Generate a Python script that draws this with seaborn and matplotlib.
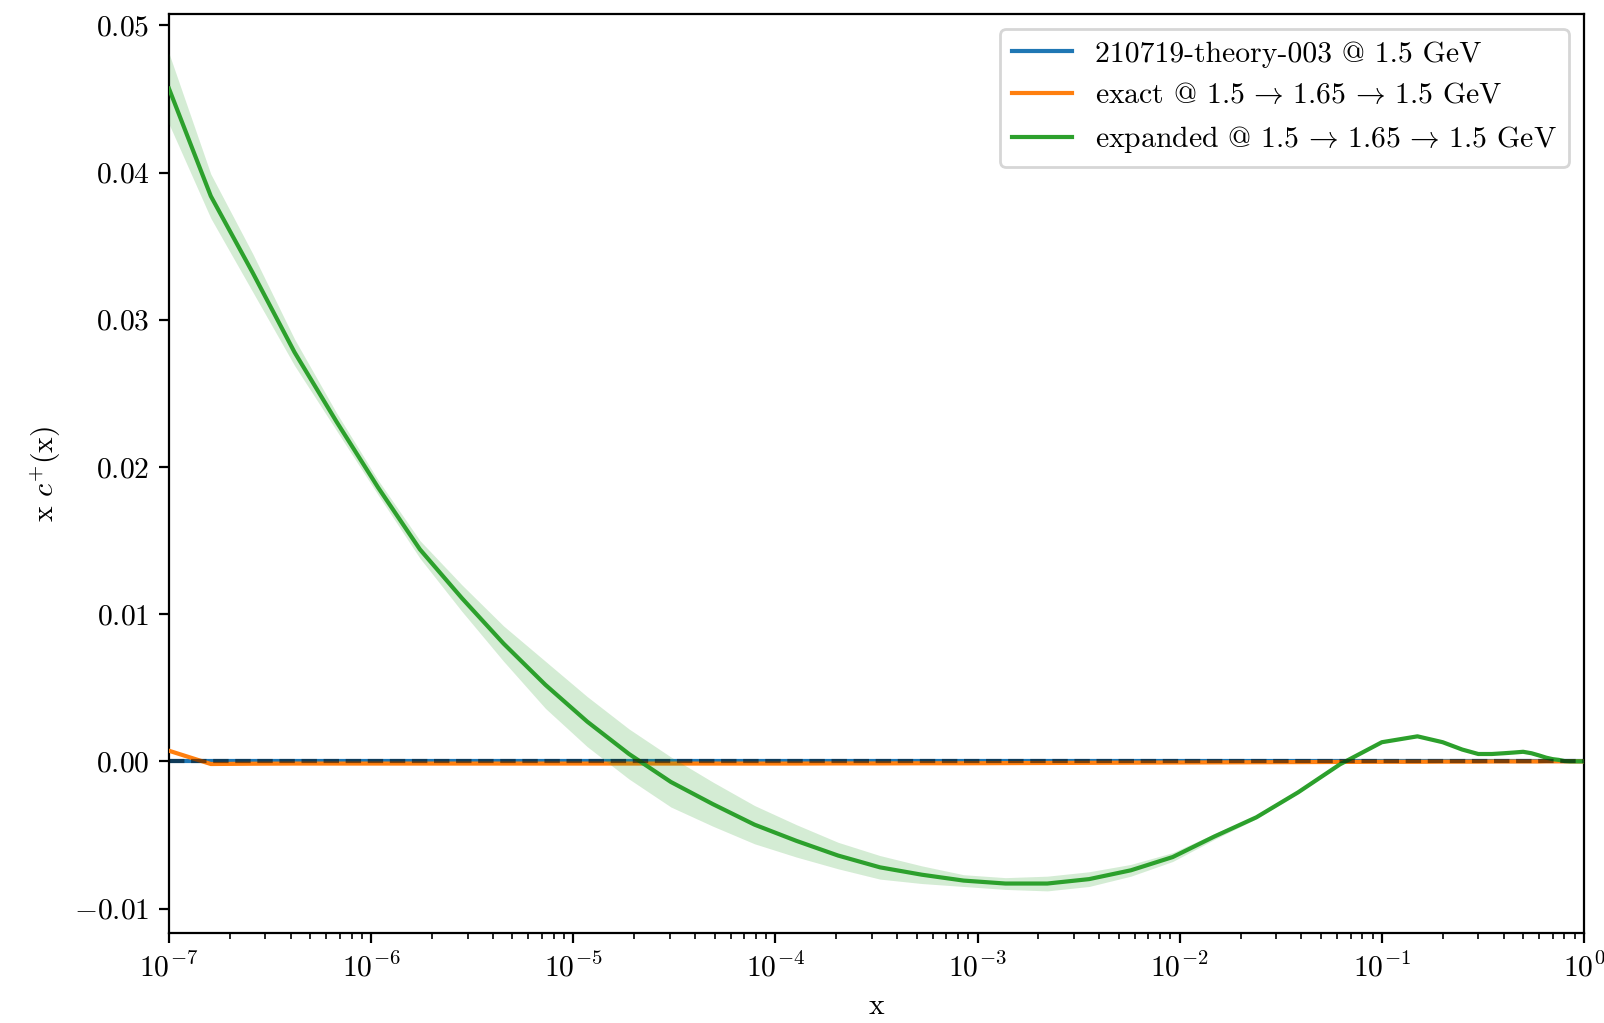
import numpy as np
import pandas as pd
import matplotlib
matplotlib.use("Agg")
import matplotlib.pyplot as plt
import seaborn as sns
from matplotlib.lines import Line2D

# ---------------- data ----------------
x_grid = [1.000e-7, 1.610e-7, 2.593e-7, 4.175e-7, 6.723e-7,
          1.083e-6, 1.743e-6, 2.807e-6, 4.520e-6, 7.279e-6,
          1.172e-5, 1.887e-5, 3.039e-5, 4.894e-5, 7.880e-5,
          1.269e-4, 2.043e-4, 3.290e-4, 5.298e-4, 8.532e-4,
          1.374e-3, 2.212e-3, 3.562e-3, 5.736e-3, 9.237e-3,
          1.487e-2, 2.395e-2, 3.857e-2, 6.210e-2, 1.000e-1,
          0.15, 0.20, 0.25, 0.30, 0.35, 0.40, 0.45, 0.50, 0.55,
          0.60, 0.65, 0.70, 0.75, 0.80, 0.85, 0.90, 0.95, 1.00]

theory_vals = [0.0, 0.0, 0.0, 0.0, 0.0, 0.0, 0.0, 0.0, 0.0, 0.0,
               0.0, 0.0, 0.0, 0.0, 0.0, 0.0, 0.0, 0.0, 0.0, 0.0,
               0.0, 0.0, 0.0, 0.0, 0.0, 0.0, 0.0, 0.0, 0.0, 0.0,
               0.0, 0.0, 0.0, 0.0, 0.0, 0.0, 0.0, 0.0, 0.0,
               0.0, 0.0, 0.0, 0.0, 0.0, 0.0, 0.0, 0.0, 0.0]
theory_err = [0.00005, 0.00003, 0.00002, 0.00002, 0.00002, 0.00002, 0.00002, 0.00002, 0.00002, 0.00002,
              0.00002, 0.00002, 0.00002, 0.00002, 0.00002, 0.00002, 0.00002, 0.00002, 0.00002, 0.00002,
              0.00002, 0.00002, 0.00002, 0.00002, 0.00002, 0.00002, 0.00002, 0.00002, 0.00002, 0.00002,
              0.00002, 0.00002, 0.00002, 0.00002, 0.00002, 0.00002, 0.00002, 0.00002, 0.00002,
              0.00002, 0.00002, 0.00002, 0.00002, 0.00002, 0.00002, 0.00002, 0.00002, 0.00002]

exact_vals = [0.00072, -0.00018, -0.00016, -0.00015, -0.00015, -0.00015, -0.00015, -0.00015, -0.00015, -0.00015,
              -0.00015, -0.00015, -0.00015, -0.00015, -0.00015, -0.00015, -0.00014, -0.00014, -0.00013, -0.00013,
              -0.00012, -0.00011, -0.00010, -0.00009, -0.00008, -0.00007, -0.00006, -0.00005, -0.00004, -0.00003,
              -0.00003, -0.00002, -0.00002, -0.00002, -0.00001, -0.00001, -0.00001, -0.00001, -0.00001,
              -0.00001, 0.0, 0.0, 0.0, 0.0, 0.0, 0.0, 0.0, 0.0]
exact_err = [0.00006, 0.00004, 0.00003, 0.00003, 0.00003, 0.00003, 0.00003, 0.00003, 0.00003, 0.00003,
             0.00003, 0.00003, 0.00003, 0.00003, 0.00003, 0.00003, 0.00003, 0.00003, 0.00003, 0.00003,
             0.00003, 0.00003, 0.00003, 0.00003, 0.00003, 0.00003, 0.00003, 0.00003, 0.00003, 0.00003,
             0.00002, 0.00002, 0.00002, 0.00002, 0.00002, 0.00002, 0.00002, 0.00002, 0.00002,
             0.00002, 0.00002, 0.00002, 0.00002, 0.00002, 0.00002, 0.00002, 0.00002, 0.00002]

expanded_vals = [0.0457, 0.0384, 0.0332, 0.0278, 0.0231, 0.0186, 0.0144, 0.0111, 0.0080, 0.0052,
                 0.0027, 0.0005, -0.0014, -0.0029, -0.0043, -0.0054, -0.0064, -0.0072, -0.0077, -0.0081,
                 -0.0083, -0.0083, -0.0080, -0.0074, -0.0065, -0.0051, -0.0038, -0.0021, -0.0002, 0.0013,
                 0.0017, 0.0013, 0.0008, 0.0005, 0.0005, 0.00055, 0.0006, 0.00065, 0.00055,
                 0.0004, 0.00025, 0.00015, 0.0001, 0.00002, 0.0, 0.0, 0.0, 0.0]
expanded_err = [0.0024, 0.0015, 0.0013, 0.0009, 0.0006, 0.0005, 0.0006, 0.0009, 0.0012, 0.0016,
                0.0017, 0.0017, 0.0017, 0.0015, 0.0013, 0.0011, 0.0009, 0.0008, 0.0006, 0.0004,
                0.0004, 0.0005, 0.0005, 0.0004, 0.0003, 0.0002, 0.0001, 0.00008, 0.00006, 0.00005,
                0.00005, 0.00005, 0.00005, 0.00005, 0.00005, 0.00005, 0.00005, 0.00005, 0.00005,
                0.00004, 0.00004, 0.00003, 0.00003, 0.00002, 0.00002, 0.00002, 0.00002, 0.00002]

labels = ["210719-theory-003 @ 1.5 GeV",
          r"exact @ 1.5$\,\rightarrow\,$1.65$\,\rightarrow\,$1.5 GeV",
          r"expanded @ 1.5$\,\rightarrow\,$1.65$\,\rightarrow\,$1.5 GeV"]
colors = ["#1f77b4", "#ff7f0e", "#2ca02c"]

# ---------------- style ----------------
plt.rcParams.update({
    "font.family": ["cmr10", "DejaVu Serif"],
    "mathtext.fontset": "cm",
    "axes.formatter.use_mathtext": True,
    "font.size": 10.7,
    "axes.unicode_minus": True,
})

fig = plt.figure(figsize=(8.02, 5.115), dpi=200)
ax = fig.add_axes([0.10536, 0.08798, 0.98753 - 0.10536, 0.98631 - 0.08798])

series = [(theory_vals, theory_err), (exact_vals, exact_err), (expanded_vals, expanded_err)]
frames = []
for lab, (vals, err) in zip(labels, series):
    frames.append(pd.DataFrame({"x": x_grid, "y": vals, "pdf": lab}))
df = pd.concat(frames, ignore_index=True)

for i, (lab, (vals, err)) in enumerate(zip(labels, series)):
    v = np.array(vals)
    e = np.array(err)
    ax.fill_between(x_grid, v - e, v + e, color=colors[i], alpha=0.2, lw=0, zorder=1 + 2 * i)

sns.lineplot(data=df, x="x", y="y", hue="pdf", palette=colors, hue_order=labels,
             estimator=None, sort=False, lw=1.5, ax=ax, legend=False)
for i, line in enumerate(ax.lines):
    line.set_zorder(2 + 2 * i)

ax.axhline(0, color="k", ls="--", lw=1.5, alpha=0.5, zorder=10)

ax.set_xscale("log")
ax.set_xlim(1e-7, 1)
ax.set_ylim(-0.01166, 0.05077)
ax.set_yticks([-0.01, 0.0, 0.01, 0.02, 0.03, 0.04, 0.05])
ax.set_xlabel("x")
ax.set_ylabel(r"x $c^{+}$(x)")

handles = [Line2D([], [], color=c, lw=1.5) for c in colors]
ax.legend(handles, labels, loc="upper right")

fig.savefig("out.png", dpi=200)
